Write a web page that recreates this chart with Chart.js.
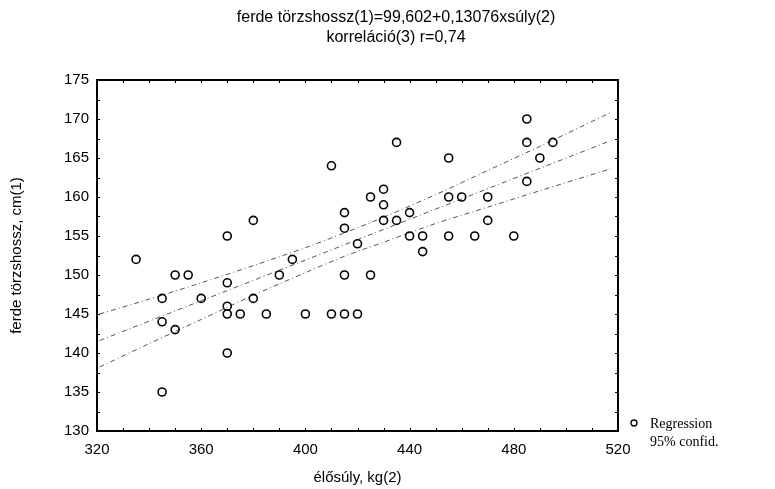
<!DOCTYPE html>
<html>
<head>
<meta charset="utf-8">
<script src="https://cdn.jsdelivr.net/npm/chart.js@4.4.1/dist/chart.umd.min.js"></script>
<style>
  html, body { margin: 0; padding: 0; background: #fff; }
  #wrap { width: 775px; height: 489px; position: relative; }
</style>
</head>
<body>
<div id="wrap"><canvas id="c" width="775" height="489"></canvas></div>
<script>
// ---- data ----
const titleLines = ["ferde törzshossz(1)=99,602+0,13076xsúly(2)", "korreláció(3) r=0,74"];
const xTitle = "élősúly, kg(2)";
const yTitle = "ferde törzshossz, cm(1)";
const legendLabels = ["Regression", "95% confid."];
const xTickValues = [320, 360, 400, 440, 480, 520];
const yTickValues = [130, 135, 140, 145, 150, 155, 160, 165, 170, 175];

const weight = [335, 345, 345, 345, 350, 350, 355, 360, 370, 370, 370, 370, 370, 375, 380, 380, 385, 390, 395, 400,
                410, 410, 415, 415, 415, 415, 420, 420, 425, 425, 430, 430, 430, 435, 435, 440, 440, 445, 445,
                455, 455, 455, 460, 465, 470, 470, 480, 485, 485, 485, 490, 495];
const trunk  = [152, 147, 144, 135, 150, 143, 150, 147, 155, 149, 146, 145, 140, 145, 157, 147, 145, 150, 152, 145,
                164, 145, 158, 156, 150, 145, 154, 145, 160, 150, 161, 159, 157, 167, 157, 158, 155, 155, 153,
                165, 160, 155, 160, 155, 160, 157, 155, 170, 167, 162, 165, 167];

const fitX = [321, 517];
const fitY = [141.6, 167.2];
const bandX     = [321,   340,   360,   380,   400,   415,   430,   450,   470,   490,   517];
const bandUpper = [145.0, 146.9, 149.0, 151.2, 153.5, 155.4, 157.4, 160.3, 163.4, 166.5, 170.8];
const bandLower = [138.2, 141.2, 144.3, 147.4, 150.3, 152.4, 154.2, 156.6, 158.7, 160.8, 163.6];

const toPts = (xs, ys) => xs.map((x, i) => ({ x: x, y: ys[i] }));

const SANS = '"Liberation Sans", Arial, sans-serif';
const lineStyle = {
  showLine: true, pointRadius: 0, borderColor: '#555', borderWidth: 1,
  borderDash: [5, 3, 1, 3], backgroundColor: 'transparent', fill: false, tension: 0.3
};

const framePlugin = {
  id: 'frame',
  afterDraw(chart) {
    const { ctx, chartArea: a, scales } = chart;
    ctx.save();
    ctx.strokeStyle = '#000';
    ctx.lineWidth = 2;
    ctx.strokeRect(a.left, a.top, a.right - a.left, a.bottom - a.top);
    ctx.lineWidth = 1;
    for (let v = 320; v <= 520; v += 10) {
      const px = Math.round(scales.x.getPixelForValue(v)) + 0.5;
      ctx.beginPath();
      ctx.moveTo(px, a.bottom); ctx.lineTo(px, a.bottom - 3);
      ctx.moveTo(px, a.top); ctx.lineTo(px, a.top + 3);
      ctx.stroke();
    }
    for (let v = 130; v <= 175; v += 2.5) {
      const py = Math.round(scales.y.getPixelForValue(v)) + 0.5;
      ctx.beginPath();
      ctx.moveTo(a.left, py); ctx.lineTo(a.left + 3, py);
      ctx.moveTo(a.right, py); ctx.lineTo(a.right - 3, py);
      ctx.stroke();
    }
    // title
    ctx.fillStyle = '#000';
    ctx.textAlign = 'center';
    ctx.textBaseline = 'middle';
    ctx.font = '16px ' + SANS;
    ctx.fillText(titleLines[0], 396, 18);
    ctx.fillText(titleLines[1], 396, 38);
    // legend
    ctx.beginPath();
    ctx.lineWidth = 1.3;
    ctx.arc(634, 423, 3, 0, Math.PI * 2);
    ctx.stroke();
    ctx.textAlign = 'left';
    ctx.font = '14px "Liberation Serif", "Times New Roman", serif';
    ctx.fillText(legendLabels[0], 650, 424);
    ctx.fillText(legendLabels[1], 650, 442);
    ctx.restore();
  }
};

new Chart(document.getElementById('c'), {
  type: 'scatter',
  data: {
    datasets: [
      { label: 'data', data: toPts(weight, trunk), pointStyle: 'circle', pointRadius: 4,
        pointBorderWidth: 1.6, borderColor: '#000', backgroundColor: 'rgba(0,0,0,0)', order: 0 },
      Object.assign({ label: 'fit', data: toPts(fitX, fitY) }, lineStyle, { tension: 0 }),
      Object.assign({ label: 'upper', data: toPts(bandX, bandUpper) }, lineStyle),
      Object.assign({ label: 'lower', data: toPts(bandX, bandLower) }, lineStyle)
    ]
  },
  options: {
    responsive: false,
    animation: false,
    devicePixelRatio: 1,
    layout: { padding: { left: 0, right: 157, top: 80, bottom: 0 } },
    plugins: { legend: { display: false }, tooltip: { enabled: false }, title: { display: false } },
    scales: {
      x: {
        type: 'linear', min: 320, max: 520,
        afterBuildTicks: s => { s.ticks = xTickValues.map(v => ({ value: v })); },
        afterFit: s => { s.height = 58; },
        grid: { display: false, drawTicks: false },
        border: { display: false },
        ticks: { color: '#000', font: { size: 15, family: SANS }, padding: 10, maxRotation: 0 },
        title: { display: true, text: xTitle, color: '#000', font: { size: 15, family: SANS }, padding: { top: 4, bottom: 2 } }
      },
      y: {
        type: 'linear', min: 130, max: 175,
        afterBuildTicks: s => { s.ticks = yTickValues.map(v => ({ value: v })); },
        afterFit: s => { s.width = 97; },
        grid: { display: false, drawTicks: false },
        border: { display: false },
        ticks: { color: '#000', font: { size: 15, family: SANS }, padding: 8 },
        title: { display: true, text: yTitle, color: '#000', font: { size: 15, family: SANS }, padding: { top: 8, bottom: 0 } }
      }
    }
  },
  plugins: [framePlugin]
});
</script>
</body>
</html>
